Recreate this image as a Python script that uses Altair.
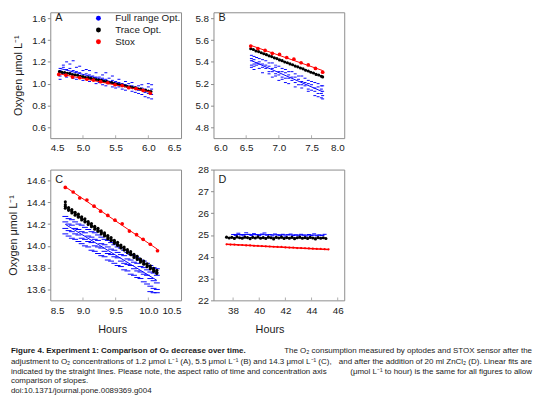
import altair as alt
import pandas as pd

FONT = "Liberation Sans"
SERIES = ["Full range Opt.", "Trace Opt.", "Stox"]
COLORS = ["#0000ff", "#000000", "#ff0000"]
BLUE, BLACK, RED = COLORS
FRAME = "#8c8c8c"
TXT = "#1a1a1a"
Y_TITLE = "Oxygen  \u03bcmol L\u207b\u00b9"
X_TITLE = "Hours"

# ---------------- Panel A ----------------
A_X_DOMAIN = [4.5, 6.5]
A_Y_DOMAIN = [0.5, 1.655]
A_X_TICKS = [4.5, 5.0, 5.5, 6.0, 6.5]
A_Y_TICKS = [0.6, 0.8, 1.0, 1.2, 1.4, 1.6]
A_FULL = [
    (4.65, [1.14, 1.07, 1.12, 1.04]), (4.70, [1.15, 1.09, 1.17]), (4.75, [1.13, 1.06, 1.20]),
    (4.80, [1.14, 1.10, 1.18]), (4.85, [1.12, 1.05, 1.21]), (4.90, [1.11, 1.04, 1.15]),
    (4.95, [1.10, 1.06, 1.16]), (5.00, [1.12, 1.03]), (5.05, [1.09, 1.05, 1.13]),
    (5.10, [1.08, 1.02, 1.12]), (5.15, [1.07, 1.04]), (5.20, [1.10, 1.00, 1.06]),
    (5.25, [1.06, 1.01]), (5.30, [1.05, 0.99, 1.08]), (5.35, [1.04, 0.98, 1.10]),
    (5.40, [1.05, 1.00]), (5.45, [1.03, 0.97, 1.07]), (5.50, [1.02, 0.96]),
    (5.55, [1.01, 0.97, 1.04]), (5.60, [1.00, 0.95]), (5.65, [0.99, 0.94, 1.02]),
    (5.70, [1.00, 0.96]), (5.75, [0.98, 0.93, 1.01]), (5.80, [0.97, 0.92]),
    (5.85, [0.98, 0.94, 0.91]), (5.90, [0.96, 0.90, 0.99]), (5.95, [0.95, 0.92, 0.88]),
    (6.00, [0.97, 0.91, 0.87, 1.00]), (6.05, [0.95, 0.90, 0.86, 0.99]),
]
A_TRACE_X = [4.64, 4.68, 4.72, 4.76, 4.80, 4.84, 4.88, 4.92, 4.96, 5.00, 5.04, 5.08,
             5.12, 5.16, 5.20, 5.24, 5.28, 5.32, 5.36, 5.40, 5.44, 5.48, 5.52, 5.56,
             5.60, 5.64, 5.68, 5.72, 5.76, 5.80, 5.84, 5.88, 5.92, 5.96, 6.00, 6.04]
A_TRACE_Y = [1.110, 1.103, 1.102, 1.095, 1.092, 1.083, 1.081, 1.077, 1.068, 1.066, 1.057, 1.056,
             1.048, 1.045, 1.038, 1.034, 1.030, 1.021, 1.019, 1.011, 1.009, 1.000, 0.997, 0.990,
             0.987, 0.980, 0.974, 0.972, 0.963, 0.961, 0.953, 0.950, 0.942, 0.940, 0.933, 0.928]
A_STOX_X = [4.63, 4.74, 4.84, 4.95, 5.06, 5.16, 5.27, 5.38, 5.49, 5.60, 5.70, 5.81, 5.92, 6.03]
A_STOX_Y = [1.085, 1.078, 1.060, 1.055, 1.040, 1.033, 1.018, 1.008, 0.990, 0.982, 0.962, 0.955, 0.938, 0.912]

# ---------------- Panel B ----------------
B_X_DOMAIN = [6.0, 8.0]
B_Y_DOMAIN = [4.7, 5.855]
B_X_TICKS = [6.0, 6.5, 7.0, 7.5, 8.0]
B_Y_TICKS = [4.8, 5.0, 5.2, 5.4, 5.6, 5.8]
B_FULL = [
    (6.58, [5.46, 5.43, 5.41, 5.37, 5.35]), (6.62, [5.45, 5.42, 5.38, 5.36, 5.33]),
    (6.66, [5.44, 5.39, 5.37]), (6.70, [5.43, 5.40, 5.38, 5.34]), (6.75, [5.42, 5.38, 5.35, 5.30]),
    (6.80, [5.41, 5.37, 5.34]), (6.85, [5.39, 5.36, 5.31, 5.29]), (6.90, [5.39, 5.34, 5.31, 5.26]),
    (6.95, [5.37, 5.35, 5.29, 5.27]), (7.00, [5.36, 5.31, 5.28, 5.23]), (7.05, [5.34, 5.31, 5.26, 5.24]),
    (7.10, [5.33, 5.30, 5.25, 5.21]), (7.15, [5.31, 5.28, 5.25, 5.20]), (7.20, [5.31, 5.26, 5.23]),
    (7.25, [5.29, 5.26, 5.21, 5.17]), (7.30, [5.27, 5.24, 5.19]), (7.35, [5.27, 5.22, 5.19, 5.16]),
    (7.40, [5.25, 5.21, 5.18]), (7.45, [5.23, 5.20, 5.15, 5.13]), (7.50, [5.22, 5.19, 5.14]),
    (7.55, [5.21, 5.16, 5.13, 5.09]), (7.60, [5.20, 5.17, 5.11, 5.08]),
    (7.65, [5.18, 5.15, 5.11, 5.07]), (7.67, [5.18, 5.13, 5.09, 5.06]),
]
B_TRACE_X = [6.57, 6.61, 6.65, 6.69, 6.73, 6.77, 6.81, 6.85, 6.89, 6.93, 6.97, 7.01, 7.05, 7.09,
             7.13, 7.17, 7.21, 7.25, 7.29, 7.33, 7.37, 7.41, 7.45, 7.49, 7.53, 7.57, 7.61, 7.65, 7.67]
B_TRACE_Y = [5.520, 5.513, 5.500, 5.494, 5.484, 5.475, 5.466, 5.455, 5.448, 5.437, 5.430, 5.418,
             5.411, 5.399, 5.392, 5.381, 5.373, 5.361, 5.354, 5.343, 5.336, 5.323, 5.316, 5.304,
             5.298, 5.285, 5.279, 5.268, 5.262]
B_STOX_X = [6.57, 6.68, 6.79, 6.90, 7.01, 7.12, 7.23, 7.34, 7.45, 7.56, 7.67]
B_STOX_Y = [5.545, 5.522, 5.505, 5.478, 5.468, 5.440, 5.425, 5.392, 5.372, 5.340, 5.305]

# ---------------- Panel C ----------------
C_X_DOMAIN = [8.5, 10.5]
C_Y_DOMAIN = [13.5, 14.7]
C_X_TICKS = [8.5, 9.0, 9.5, 10.0, 10.5]
C_Y_TICKS = [13.6, 13.8, 14.0, 14.2, 14.4, 14.6]
C_FULL = [
    (8.73, [14.27, 14.22, 14.16, 14.11]), (8.78, [14.25, 14.20, 14.14, 14.09]),
    (8.83, [14.24, 14.19, 14.13, 14.07]), (8.88, [14.22, 14.16, 14.11, 14.06]),
    (8.93, [14.20, 14.15, 14.10, 14.04]), (8.98, [14.19, 14.13, 14.07, 14.02]),
    (9.03, [14.17, 14.12, 14.06, 14.00]), (9.08, [14.15, 14.09, 14.04, 13.99]),
    (9.13, [14.13, 14.08, 14.03, 13.96]), (9.18, [14.12, 14.06, 14.00, 13.95]),
    (9.23, [14.10, 14.05, 13.99, 13.93]), (9.28, [14.08, 14.02, 13.98, 13.91]),
    (9.33, [14.06, 14.01, 13.95, 13.90]), (9.38, [14.05, 13.99, 13.93, 13.87]),
    (9.43, [14.03, 13.97, 13.92, 13.86]), (9.48, [14.01, 13.96, 13.90, 13.84]),
    (9.53, [13.99, 13.94, 13.89, 13.82]), (9.58, [13.98, 13.92, 13.86, 13.81]),
    (9.63, [13.96, 13.91, 13.84, 13.78]), (9.68, [13.94, 13.88, 13.83, 13.77]),
    (9.73, [13.92, 13.87, 13.82, 13.74]), (9.78, [13.91, 13.85, 13.79, 13.73]),
    (9.83, [13.89, 13.84, 13.77, 13.71]), (9.88, [13.87, 13.81, 13.76, 13.70]),
    (9.93, [13.86, 13.80, 13.74, 13.67]), (9.98, [13.84, 13.78, 13.73, 13.65]),
    (10.03, [13.82, 13.76, 13.70, 13.63, 13.58]), (10.08, [13.80, 13.75, 13.68, 13.61, 13.57]),
    (10.13, [13.79, 13.73, 13.66, 13.60, 13.57]),
]
C_TRACE = [
    (8.73, [14.378, 14.361, 14.345, 14.405]), (8.78, [14.352, 14.336, 14.326]),
    (8.83, [14.334, 14.318, 14.302]), (8.88, [14.309, 14.295, 14.281]),
    (8.93, [14.291, 14.272, 14.262]), (8.98, [14.266, 14.254, 14.238]),
    (9.03, [14.248, 14.230, 14.219]), (9.08, [14.222, 14.211, 14.196]),
    (9.13, [14.205, 14.187, 14.175]), (9.18, [14.180, 14.168, 14.152]),
    (9.23, [14.162, 14.144, 14.133]), (9.28, [14.137, 14.125, 14.109]),
    (9.33, [14.119, 14.101, 14.090]), (9.38, [14.094, 14.082, 14.066]),
    (9.43, [14.076, 14.058, 14.047]), (9.48, [14.051, 14.039, 14.023]),
    (9.53, [14.033, 14.015, 14.004]), (9.58, [14.008, 13.996, 13.980]),
    (9.63, [13.990, 13.972, 13.961]), (9.68, [13.965, 13.953, 13.937]),
    (9.73, [13.947, 13.929, 13.918]), (9.78, [13.922, 13.910, 13.894]),
    (9.83, [13.904, 13.886, 13.875]), (9.88, [13.879, 13.867, 13.851]),
    (9.93, [13.861, 13.843, 13.832]), (9.98, [13.836, 13.824, 13.808]),
    (10.03, [13.818, 13.800, 13.789]), (10.08, [13.793, 13.781, 13.765]),
    (10.13, [13.775, 13.757, 13.746]),
]
C_STOX_X = [8.73, 8.85, 8.95, 9.06, 9.17, 9.27, 9.38, 9.49, 9.60, 9.71, 9.82, 9.92, 10.03, 10.14]
C_STOX_Y = [14.536, 14.494, 14.439, 14.421, 14.364, 14.318, 14.279, 14.236, 14.203, 14.136,
            14.103, 14.060, 14.015, 13.955]

# ---------------- Panel D ----------------
D_X_DOMAIN = [36.5, 46.5]
D_Y_DOMAIN = [22, 28]
D_X_TICKS = [38, 40, 42, 44, 46]
D_Y_TICKS = [22, 23, 24, 25, 26, 27, 28]
D_FULL_X = [38.0, 38.2, 38.4, 38.6, 38.8, 39.0, 39.2, 39.4, 39.6, 39.8, 40.0, 40.2, 40.4, 40.6,
            40.8, 41.0, 41.2, 41.4, 41.6, 41.8, 42.0, 42.2, 42.4, 42.6, 42.8, 43.0, 43.2, 43.4,
            43.6, 43.8, 44.0, 44.2, 44.4, 44.6, 44.8, 45.0]
D_FULL_Y = [25.02, 24.97, 25.08, 25.00, 24.96, 25.10, 25.03, 24.98, 25.06, 25.01, 24.97, 25.04,
            25.09, 24.99, 25.02, 24.96, 25.05, 25.00, 24.98, 25.03, 24.95, 25.01, 25.04, 24.97,
            25.00, 24.96, 25.03, 24.99, 24.95, 25.02, 24.98, 25.05, 24.96, 25.00, 24.97, 25.03]
D_TRACE_X = [37.5, 37.7, 37.9, 38.1, 38.3, 38.5, 38.7, 38.9, 39.1, 39.3, 39.5, 39.7, 39.9, 40.1,
             40.3, 40.5, 40.7, 40.9, 41.1, 41.3, 41.5, 41.7, 41.9, 42.1, 42.3, 42.5, 42.7, 42.9,
             43.1, 43.3, 43.5, 43.7, 43.9, 44.1, 44.3, 44.5, 44.7, 44.9, 45.1]
D_TRACE_Y = [24.90, 24.86, 24.89, 24.84, 24.91, 24.87, 24.85, 24.90, 24.88, 24.83, 24.89, 24.86,
             24.91, 24.85, 24.88, 24.84, 24.90, 24.87, 24.82, 24.89, 24.86, 24.90, 24.84, 24.88,
             24.85, 24.89, 24.83, 24.87, 24.90, 24.85, 24.88, 24.84, 24.89, 24.86, 24.82, 24.88,
             24.85, 24.87, 24.84]
D_STOX_X = [37.5, 37.8, 38.1, 38.4, 38.7, 39.0, 39.3, 39.6, 39.9, 40.2, 40.5, 40.8, 41.1, 41.4,
            41.7, 42.0, 42.3, 42.6, 42.9, 43.2, 43.5, 43.8, 44.1, 44.4, 44.7, 45.0, 45.3]
D_STOX_Y = [24.57, 24.56, 24.56, 24.54, 24.54, 24.52, 24.52, 24.50, 24.50, 24.49, 24.48, 24.47,
            24.46, 24.45, 24.45, 24.43, 24.42, 24.42, 24.40, 24.40, 24.39, 24.38, 24.37, 24.36,
            24.36, 24.35, 24.34]

# ---------------- Caption ----------------
CAPTION_BOLD = "Figure 4. Experiment 1: Comparison of O\u2082 decrease over time."
CAPTION_LINES = [
    ("The O\u2082 consumption measured by optodes and STOX sensor after the", "right", 187),
    ("adjustment to O\u2082 concentrations of 1.2 \u03bcmol L\u207b\u00b9 (A), 5.5 \u03bcmol L\u207b\u00b9 (B) and 14.3 \u03bcmol L\u207b\u00b9 (C),", "left", 198),
    ("and after the addition of 20 ml ZnCl\u2082 (D). Linear fits are", "right", 198),
    ("indicated by the straight lines. Please note, the aspect ratio of time and concentration axis", "left", 208),
    ("(\u03bcmol L\u207b\u00b9 to hour) is the same for all figures to allow", "right", 208),
    ("comparison of slopes.", "left", 217),
    ("doi:10.1371/journal.pone.0089369.g004", "left", 227),
]
CAP_SIZE = 8.1
CAP_LEFT = -40
CAP_RIGHT = 490


def flat(groups):
    xs, ys = [], []
    for x, vals in groups:
        for v in vals:
            xs.append(x)
            ys.append(v)
    return pd.DataFrame({"x": xs, "y": ys})


def text_layer(t, x, y, align="left", weight="normal", size=CAP_SIZE, baseline="alphabetic"):
    return alt.Chart(pd.DataFrame({"t": [t]})).mark_text(
        align=align, baseline=baseline, font=FONT, fontSize=size, fontWeight=weight, color=TXT
    ).encode(text="t:N", x=alt.value(x), y=alt.value(y))


def panel(full, trace, stox, xdom, ydom, xticks, yticks, h, letter, letter_y,
          ytitle, xtitle, xtitle_x, fmt, stox_size, blue_len=3, fit_width=1.0, legend=False, extra=()):
    xs = alt.Scale(domain=xdom, nice=False, zero=False)
    ys = alt.Scale(domain=ydom, nice=False, zero=False)
    xkw = dict(values=xticks, format=fmt, title=xtitle)
    if xtitle:
        xkw.update(titleX=xtitle_x, titleY=30, titleBaseline="middle", titleAnchor="start", titleAlign="center")
    X = alt.X("x:Q", scale=xs, axis=alt.Axis(**xkw))
    Y = alt.Y("y:Q", scale=ys, axis=alt.Axis(values=yticks, format=fmt, title=ytitle))

    layers = [
        alt.Chart(full).mark_tick(orient="horizontal", size=blue_len, thickness=1, color=BLUE, opacity=1).encode(x=X, y=Y),
        alt.Chart(full).transform_regression("x", "y").mark_line(color=BLUE, strokeWidth=1).encode(x=X, y=Y),
        alt.Chart(trace).mark_circle(size=10, color=BLACK, opacity=1).encode(x=X, y=Y),
        alt.Chart(trace).transform_regression("x", "y").mark_line(color=BLACK, strokeWidth=1).encode(x=X, y=Y),
        alt.Chart(stox).transform_regression("x", "y").mark_line(color=RED, strokeWidth=fit_width).encode(x=X, y=Y),
    ]
    if legend:
        color = alt.Color("s:N", scale=alt.Scale(domain=SERIES, range=COLORS),
                          legend=alt.Legend(orient="none", legendX=44, legendY=1, title=None,
                                            symbolType="circle", symbolSize=25, symbolStrokeWidth=0,
                                            symbolOpacity=1, labelFont=FONT, labelFontSize=10,
                                            labelColor=TXT, labelOffset=12, rowPadding=2, padding=0))
        layers.append(alt.Chart(stox).mark_circle(size=stox_size, opacity=1).encode(x=X, y=Y, color=color))
    else:
        layers.append(alt.Chart(stox).mark_circle(size=stox_size, opacity=1, color=RED).encode(x=X, y=Y))

    inner_x = pd.DataFrame({"x": [v for v in xticks if xdom[0] < v < xdom[1]]})
    layers.append(alt.Chart(inner_x).mark_tick(orient="vertical", size=3, thickness=1, color=FRAME)
                  .encode(x=X, y=alt.value(h - 1.5)))
    layers.append(text_layer(letter, 5, letter_y, size=11, baseline="top"))
    layers.extend(extra)
    return alt.layer(*layers).properties(width=133, height=h)


def df_xy(xs, ys, **kw):
    d = pd.DataFrame({"x": xs, "y": ys})
    for k, v in kw.items():
        d[k] = v
    return d


pA = panel(flat(A_FULL), df_xy(A_TRACE_X, A_TRACE_Y), df_xy(A_STOX_X, A_STOX_Y, s="Stox"),
           A_X_DOMAIN, A_Y_DOMAIN, A_X_TICKS, A_Y_TICKS, 128, "A", 0, Y_TITLE, None, 0, ".1f", 14,
           legend=True)
pB = panel(flat(B_FULL), df_xy(B_TRACE_X, B_TRACE_Y), df_xy(B_STOX_X, B_STOX_Y),
           B_X_DOMAIN, B_Y_DOMAIN, B_X_TICKS, B_Y_TICKS, 128, "B", 0, None, None, 0, ".1f", 14)

caption_layers = [text_layer(CAPTION_BOLD, CAP_LEFT, 187, weight="bold")]
for t, al, yy in CAPTION_LINES:
    caption_layers.append(text_layer(t, CAP_LEFT if al == "left" else CAP_RIGHT, yy, align=al))

pC = panel(flat(C_FULL), flat(C_TRACE), df_xy(C_STOX_X, C_STOX_Y),
           C_X_DOMAIN, C_Y_DOMAIN, C_X_TICKS, C_Y_TICKS, 133, "C", 5, Y_TITLE, X_TITLE, 63, ".1f", 14,
           blue_len=6, extra=caption_layers)
pD = panel(df_xy(D_FULL_X, D_FULL_Y), df_xy(D_TRACE_X, D_TRACE_Y), df_xy(D_STOX_X, D_STOX_Y),
           D_X_DOMAIN, D_Y_DOMAIN, D_X_TICKS, D_Y_TICKS, 133, "D", 5, None, X_TITLE, 57, "d", 5,
           blue_len=4, fit_width=1.5)

chart = alt.concat(pA, pB, pC, pD, columns=2, spacing={"row": 32, "column": 33}, bounds="flush").resolve_scale(
    color="independent"
).properties(
    padding={"left": -1, "top": 0, "right": 0, "bottom": 0}
).configure_view(
    stroke=FRAME, strokeWidth=1
).configure_axis(
    domain=False, grid=False, ticks=False, tickSize=0, labelPadding=5,
    labelFont=FONT, labelFontSize=10, labelColor=TXT,
    titleFont=FONT, titleFontSize=11, titleFontWeight="normal", titleColor=TXT, titlePadding=8,
).configure_axisY(
    ticks=True, tickSize=3, tickColor=FRAME, tickWidth=1, labelPadding=2,
)

chart.save("out.html", embed_options={"renderer": "svg", "actions": False})
